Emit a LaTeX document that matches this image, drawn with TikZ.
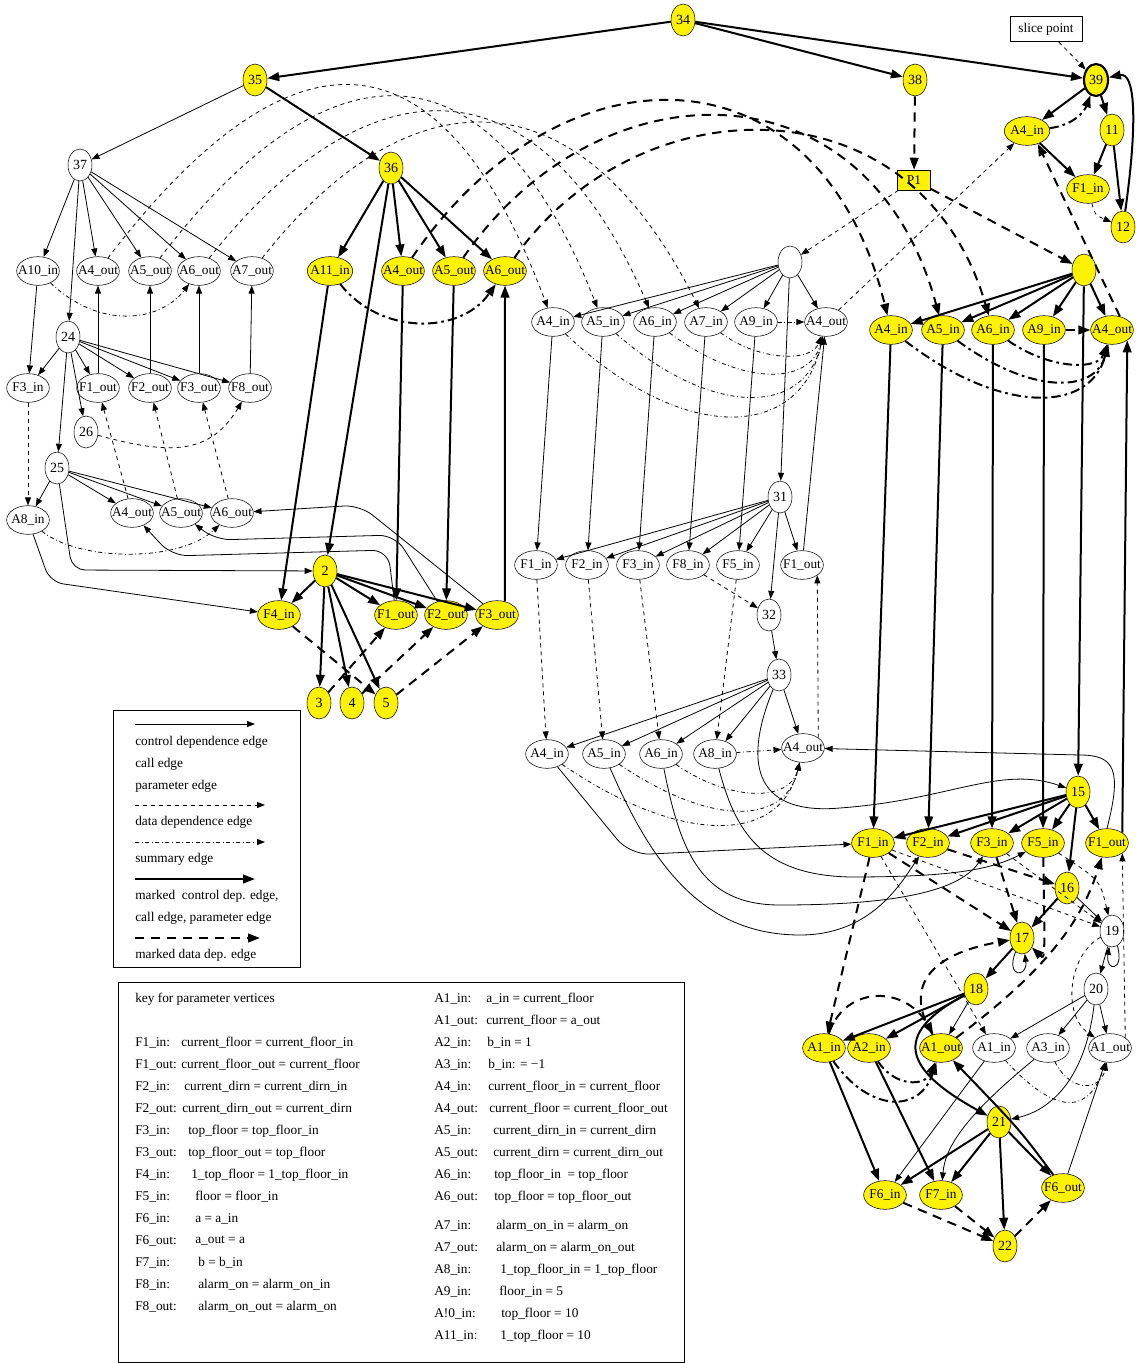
\documentclass[tikz,border=0pt]{standalone}
\usepackage{fontspec}
\setmainfont{Liberation Serif}
\usetikzlibrary{shapes.geometric,arrows.meta}

\tikzset{
  pv/.style={ellipse, draw, inner xsep=-5pt, inner ysep=0pt, minimum width=32pt, minimum height=21.5pt, font=\fontsize{10}{11}\selectfont},
  nv/.style={ellipse, draw, inner sep=0pt, minimum width=18pt, minimum height=24pt, font=\fontsize{10.5}{11}\selectfont},
  mk/.style={fill=yellow},
  ctl/.style={-{Triangle[length=6pt,width=4.5pt]}, line width=0.6pt},
  dd/.style={ctl, dashed},
  sm/.style={ctl, dash dot},
  mctl/.style={-{Triangle[length=9pt,width=6.5pt]}, line width=1.5pt},
  mdd/.style={mctl, dash pattern=on 7pt off 5pt},
  msm/.style={mctl, dash pattern=on 7pt off 3pt on 2pt off 3pt},
  txt/.style={anchor=west, inner sep=0pt, font=\fontsize{10}{12}\selectfont},
}

\begin{document}
\begin{tikzpicture}[x=0.75pt,y=-0.75pt]
\path[fill=white, use as bounding box] (0,0) rectangle (1135,1363);

% main and call sites
\node[nv,mk] (n34) at (683,20) {34};
\node[nv,mk] (n35) at (255,80) {35};
\node[nv,mk] (n38) at (915,80) {38};
\node[nv,mk,line width=1.6pt] (n39) at (1096,80) {39};
\node[draw, minimum width=54pt, minimum height=19pt, font=\fontsize{10}{11}\selectfont] (slice) at (1046,29) {slice point};
\node[nv] (n37) at (80,165) {37};
\node[nv,mk] (n36) at (391,168) {36};
\node[draw,mk,minimum width=25pt,minimum height=15pt,inner sep=0pt,font=\fontsize{10}{11}\selectfont] (p1) at (914,180) {\raisebox{-2pt}{P1}};
\node[pv,mk,minimum width=34pt] (A4inT) at (1027,131) {A4\_in};
\node[nv,mk] (n11) at (1112,130) {11};
\node[pv,mk] (F1inT) at (1088,189) {F1\_in};
\node[nv,mk] (n12) at (1123,227) {12};

% left procedure (37)
\node[pv] (A10inL) at (38,271) {A10\_in};
\node[pv] (A4outL) at (98,271) {A4\_out};
\node[pv] (A5outL) at (150,271) {A5\_out};
\node[pv] (A6outL) at (199,271) {A6\_out};
\node[pv] (A7outL) at (252,271) {A7\_out};
\node[nv] (n24) at (68,337) {24};
\node[pv] (F3inL) at (28,388) {F3\_in};
\node[pv] (F1outL) at (98,388) {F1\_out};
\node[pv] (F2outL) at (150,388) {F2\_out};
\node[pv] (F3outL) at (199,388) {F3\_out};
\node[pv] (F8outL) at (250,388) {F8\_out};
\node[nv] (n26) at (86,432) {26};
\node[nv] (n25) at (57,468) {25};
\node[pv] (A8inB) at (28,520) {A8\_in};
\node[pv] (A4outB) at (132,513) {A4\_out};
\node[pv] (A5outB) at (181,513) {A5\_out};
\node[pv] (A6outB) at (232,513) {A6\_out};

% marked procedure (36)
\node[pv,mk,minimum width=34pt] (A11inM) at (330,271) {A11\_in};
\node[pv,mk] (A4outM) at (403,271) {A4\_out};
\node[pv,mk] (A5outM) at (454,271) {A5\_out};
\node[pv,mk] (A6outM) at (505,271) {A6\_out};
\node[nv,mk] (n2) at (325,571) {2};
\node[pv,mk] (F4inM) at (279,615) {F4\_in};
\node[pv,mk] (F1outM) at (396,615) {F1\_out};
\node[pv,mk] (F2outM) at (446,615) {F2\_out};
\node[pv,mk] (F3outM) at (497,615) {F3\_out};
\node[nv,mk] (n3) at (319,703) {3};
\node[nv,mk] (n4) at (352,703) {4};
\node[nv,mk] (n5) at (386,703) {5};

% unmarked call (blank vertex)
\node[nv] (w0) at (790,262) {};
\node[pv] (A4inW) at (553,322) {A4\_in};
\node[pv] (A5inW) at (603,322) {A5\_in};
\node[pv] (A6inW) at (655,322) {A6\_in};
\node[pv] (A7inW) at (706,322) {A7\_in};
\node[pv] (A9inW) at (756,322) {A9\_in};
\node[pv] (A4outW) at (826,322) {A4\_out};
\node[nv] (n31) at (780,497) {31};
\node[pv] (F1inW) at (536,565) {F1\_in};
\node[pv] (F2inW) at (587,565) {F2\_in};
\node[pv] (F3inW) at (638,565) {F3\_in};
\node[pv] (F8inW) at (688,565) {F8\_in};
\node[pv] (F5inW) at (738,565) {F5\_in};
\node[pv] (F1outW) at (802,565) {F1\_out};
\node[nv] (n32) at (769,615) {32};
\node[nv] (n33) at (779,675) {33};
\node[pv] (A4inX) at (547,754) {A4\_in};
\node[pv] (A5inX) at (604,754) {A5\_in};
\node[pv] (A6inX) at (661,754) {A6\_in};
\node[pv] (A8inX) at (715,754) {A8\_in};
\node[pv] (A4outX) at (803,748) {A4\_out};

% marked call (blank vertex)
\node[nv,mk] (y0) at (1084,270) {};
\node[pv,mk] (A4inY) at (891,330) {A4\_in};
\node[pv,mk] (A5inY) at (943,330) {A5\_in};
\node[pv,mk] (A6inY) at (993,330) {A6\_in};
\node[pv,mk] (A9inY) at (1044,330) {A9\_in};
\node[pv,mk] (A4outY) at (1112,330) {A4\_out};
\node[nv,mk] (n15) at (1078,792) {15};
\node[pv,mk] (F1inY) at (873,843) {F1\_in};
\node[pv,mk] (F2inY) at (928,843) {F2\_in};
\node[pv,mk] (F3inY) at (992,843) {F3\_in};
\node[pv,mk] (F5inY) at (1043,843) {F5\_in};
\node[pv,mk] (F1outY) at (1107,843) {F1\_out};
\node[nv,mk] (n16) at (1067,888) {16};
\node[nv,mk] (n17) at (1022,938) {17};
\node[nv] (n19) at (1112,931) {19};
\node[nv,mk] (n18) at (976,989) {18};
\node[nv] (n20) at (1096,989) {20};
\node[pv,mk] (A1inS) at (824,1048) {A1\_in};
\node[pv,mk] (A2inS) at (869,1048) {A2\_in};
\node[pv,mk] (A1outS) at (941,1048) {A1\_out};
\node[pv] (A1inU) at (994,1048) {A1\_in};
\node[pv] (A3inU) at (1048,1048) {A3\_in};
\node[pv] (A1outU) at (1110,1048) {A1\_out};
\node[nv,mk] (n21) at (999,1122) {21};
\node[pv,mk] (F6inS) at (885,1195) {F6\_in};
\node[pv,mk] (F7inS) at (941,1195) {F7\_in};
\node[pv,mk] (F6outS) at (1063,1188) {F6\_out};
\node[nv,mk] (n22) at (1005,1246) {22};

% edges at the top
\draw[mctl] (n34) -- (n35);
\draw[mctl] (n34) -- (n38);
\draw[mctl] (n34) -- (n39);
\draw[ctl] (n35) -- (n37);
\draw[mctl] (n35) -- (n36);
\draw[dd] (slice) -- (n39);
\draw[mdd] (n38) -- (p1);
\draw[mctl] (n39) -- (A4inT);
\draw[mctl] (n39) -- (n11);
\draw[mctl] (n11) -- (F1inT);
\draw[mctl] (n11) -- (n12);
\draw[mctl] (A4inT) -- (F1inT);
\draw[mctl] (n12) .. controls (1138,120) and (1135,72) .. (n39);
\draw[msm] (A4inT) .. controls (1075,125) and (1085,110) .. (n39);
\draw[dd] (F1inT) .. controls (1095,215) .. (n12);
\draw[dd] (A4outW) -- (A4inT);
\draw[mdd] (A4outY.60) -- (A4inT.-50);
\draw[dd] (p1) -- (w0);
\draw[mdd] (p1) -- (y0);

% left procedure edges
\foreach \t in {A10inL,A4outL,A5outL,A6outL,A7outL,n24} \draw[ctl] (n37) -- (\t);
\foreach \t in {F3inL,F1outL,F2outL,F3outL,F8outL,n26,n25} \draw[ctl] (n24) -- (\t);
\draw[ctl] (A10inL) -- (F3inL);
\draw[ctl] (F1outL) -- (A4outL);
\draw[ctl] (F2outL) -- (A5outL);
\draw[ctl] (F3outL) -- (A6outL);
\draw[ctl] (F8outL) -- (A7outL);
\draw[sm] (A10inL) .. controls (100,330) and (160,322) .. (A6outL);
\draw[dd] (F3inL) -- (A8inB);
\draw[dd] (n26) .. controls (170,455) and (210,455) .. (F8outL);
\foreach \t in {A8inB,A4outB,A5outB,A6outB} \draw[ctl] (n25) -- (\t);
\draw[dd] (A4outB) -- (F1outL);
\draw[dd] (A5outB) -- (F2outL);
\draw[dd] (A6outB) -- (F3outL);
\draw[sm] (A8inB) .. controls (80,562) and (180,562) .. (A6outB);
\draw[ctl, rounded corners=10pt] (A8inB) -- (50,582) -- (F4inM);
\draw[ctl, rounded corners=10pt] (n25) -- (72,570) -- (n2);
\draw[ctl, rounded corners=12pt] (F1outM) -- (388,550) -- (172,556) -- (A4outB);
\draw[ctl, rounded corners=12pt] (F2outM) -- (395,535) -- (215,540) -- (A5outB);
\draw[ctl, rounded corners=12pt] (F3outM) -- (360,505) -- (A6outB);

% marked procedure edges
\foreach \t in {A11inM,A4outM,A5outM,A6outM,n2} \draw[mctl] (n36) -- (\t);
\draw[mctl] (A11inM) -- (F4inM);
\draw[mctl] (A4outM) -- (F1outM);
\draw[mctl] (A5outM) -- (F2outM);
\draw[mctl] (F3outM.60) -- (A6outM.south);
\draw[msm] (A11inM) .. controls (380,335) and (460,335) .. (A6outM);
\foreach \t in {F4inM,F1outM,F2outM,F3outM,n3,n4,n5} \draw[mctl] (n2) -- (\t);
\draw[mdd] (n3) -- (F1outM);
\draw[mdd] (n4) -- (F2outM);
\draw[mdd] (n5) -- (F3outM);
\draw[mdd] (F4inM) -- (n5);

% long data edges across
\draw[dd] (A4outL) .. controls (290,20) and (440,20) .. (A4inW);
\draw[dd] (A5outL) .. controls (330,35) and (490,35) .. (A5inW);
\draw[dd] (A6outL) .. controls (370,55) and (540,55) .. (A6inW);
\draw[dd] (A7outL) .. controls (410,70) and (580,70) .. (A7inW);
\draw[mdd] (A4outM) .. controls (560,40) and (820,40) .. (A4inY);
\draw[mdd] (A5outM) .. controls (600,60) and (870,60) .. (A5inY);
\draw[mdd] (A6outM) .. controls (640,80) and (920,80) .. (A6inY);

% unmarked call edges
\foreach \t in {A4inW,A5inW,A6inW,A7inW,A9inW,A4outW,n31} \draw[ctl] (w0) -- (\t);
\draw[ctl] (A4inW) -- (F1inW);
\draw[ctl] (A5inW) -- (F2inW);
\draw[ctl] (A6inW) -- (F3inW);
\draw[ctl] (A7inW) -- (F8inW);
\draw[ctl] (A9inW) -- (F5inW);
\draw[ctl] (F1outW) -- (A4outW);
\draw[sm] (A4inW) .. controls (680,443) and (800,443) .. (A4outW);
\draw[sm] (A5inW) .. controls (710,417) and (805,417) .. (A4outW);
\draw[sm] (A6inW) .. controls (740,386) and (810,386) .. (A4outW);
\draw[sm] (A7inW) .. controls (760,362) and (812,362) .. (A4outW);
\draw[sm] (A9inW) -- (A4outW);
\foreach \t in {F1inW,F2inW,F3inW,F8inW,F5inW,F1outW,n32} \draw[ctl] (n31) -- (\t);
\draw[dd] (F8inW) -- (n32);
\draw[ctl] (n32) -- (n33);
\draw[dd] (F1inW) -- (A4inX);
\draw[dd] (F2inW) -- (A5inX);
\draw[dd] (F3inW) -- (A6inX);
\draw[dd] (F5inW) -- (A8inX);
\draw[dd] (A4outX.north east) -- (F1outW.south east);
\foreach \t in {A4inX,A5inX,A6inX,A8inX,A4outX} \draw[ctl] (n33) -- (\t);
\draw[sm] (A8inX) -- (A4outX);
\draw[sm] (A4inX) .. controls (680,845) and (780,845) .. (A4outX);
\draw[sm] (A5inX) .. controls (710,826) and (785,826) .. (A4outX);
\draw[sm] (A6inX) .. controls (730,802) and (790,802) .. (A4outX);
\draw[ctl] (n33) .. controls (740,770) and (760,815) .. (840,808) .. controls (950,800) and (1000,765) .. (n15);
\draw[ctl, rounded corners=15pt] (A4inX) -- (630,855) -- (F1inY);
\draw[ctl] (A5inX) .. controls (650,860) and (700,935) .. (800,935) .. controls (870,935) and (900,885) .. (F2inY);
\draw[ctl] (A6inX) .. controls (680,850) and (700,905) .. (780,905) .. controls (900,905) and (960,890) .. (F3inY);
\draw[ctl] (A8inX) .. controls (735,830) and (760,875) .. (850,877) .. controls (950,877) and (990,870) .. (F5inY);
\draw[ctl] (F1outY.north) .. controls (1122,770) and (1115,755) .. (1080,755) -- (A4outX);

% marked call edges
\foreach \t in {A4inY,A5inY,A6inY,A9inY,A4outY,n15} \draw[mctl] (y0) -- (\t);
\draw[mctl] (A4inY) -- (F1inY);
\draw[mctl] (A5inY) -- (F2inY);
\draw[mctl] (A6inY) -- (F3inY);
\draw[mctl] (A9inY) -- (F5inY);
\draw[mctl] (F1outY.north east) -- (A4outY.south east);
\draw[msm] (A4inY) .. controls (1000,414) and (1090,414) .. (A4outY);
\draw[msm] (A5inY) .. controls (1030,394) and (1095,394) .. (A4outY);
\draw[msm] (A6inY) .. controls (1050,370) and (1098,370) .. (A4outY);
\draw[msm] (A9inY) -- (A4outY);
\foreach \t in {F1inY,F2inY,F3inY,F5inY,F1outY,n16} \draw[mctl] (n15) -- (\t);
\draw[mctl] (n16) -- (n17);
\draw[ctl] (n16) -- (n19);
\draw[mdd] (F1inY) -- (n17);
\draw[mdd] (F2inY) -- (n16);
\draw[mdd] (F3inY) -- (n17);
\draw[mdd] (F5inY) .. controls (1045,960) .. (n17);
\draw[dd] (F1inY) -- (n19);
\draw[dd] (F3inY) -- (n19);
\draw[dd] (F5inY) .. controls (1100,880) .. (n19);
\draw[mdd] (F1inY) -- (A1inS);
\draw[dd] (F1inY) -- (A1inU);
\draw[dd] (A1outU.north east) -- (F1outY.south east);
\draw[mctl] (n17) -- (n18);
\draw[ctl] (n17.-115) .. controls (1005,978) and (1028,978) .. (n17.-80);
\draw[ctl] (n19.-70) .. controls (1125,972) and (1105,972) .. (n19.-100);
\draw[ctl] (n19) -- (n20);
\draw[dd] (n19) .. controls (1068,955) and (1062,1015) .. (A1outU);

% 18 and 20
\draw[mctl] (n18) -- (A1inS);
\draw[mctl] (n18) -- (A2inS);
\draw[ctl] (n18) -- (A1outS);
\draw[mctl] (n18) .. controls (890,1035) and (905,1070) .. (n21);
\draw[mdd] (A1inS) .. controls (845,985) and (905,985) .. (A1outS);
\draw[mdd] (A1outS) .. controls (905,990) and (925,955) .. (n17);
\draw[mdd] (A1outS.north east) .. controls (1060,960) and (1085,910) .. (F1outY.-110);
\draw[msm] (A1inS) .. controls (870,1113) and (920,1113) .. (A1outS);
\draw[msm] (A2inS) .. controls (895,1087) and (925,1087) .. (A1outS);
\draw[mctl] (A1inS) -- (F6inS);
\draw[mctl] (A2inS) -- (F7inS);
\draw[mctl] (F6outS) .. controls (1020,1130) .. (A1outS);
\foreach \t in {A1inU,A3inU,A1outU} \draw[ctl] (n20) -- (\t);
\draw[ctl] (n20) .. controls (1085,1080) and (1050,1110) .. (n21);
\draw[ctl] (A1inU) -- (F6inS);
\draw[ctl] (A3inU) .. controls (960,1120) and (945,1150) .. (F7inS);
\draw[ctl] (F6outS) -- (A1outU);
\draw[sm] (A1inU) .. controls (1060,1120) and (1090,1110) .. (A1outU);
\draw[sm] (A3inU) .. controls (1070,1092) and (1100,1092) .. (A1outU);

% 21 and 22
\foreach \t in {F6inS,F7inS,n22,F6outS} \draw[mctl] (n21) -- (\t);
\draw[mdd] (F6inS) -- (n22);
\draw[mdd] (F7inS) -- (n22);
\draw[mdd] (n22) -- (F6outS);

% legend
\draw[line width=0.6pt] (113,710) rectangle (300,967);
\draw[ctl] (135,724) -- (255,724);
\draw[dd] (135,805) -- (265,805);
\draw[sm] (135,842) -- (265,842);
\draw[mctl] (135,879) -- (255,879);
\draw[mdd] (135,938) -- (260,938);
\foreach \y/\s [count=\i] in {742/control dependence edge, 764/call edge, 786/parameter edge,
  822/data dependence edge, 859/summary edge, 896/marked\ \ control dep. edge{,},
  918/call edge{,} parameter edge, 955/marked data dep. edge}
  \node[txt] (lg\i) at (135,\y) {\s};

% key for parameter vertices
\draw[line width=0.6pt] (118,982) rectangle (684,1362);
\node[txt] (keyt) at (135,999) {key for parameter vertices};
\foreach \y/\k/\x/\v [count=\i] in {
  1043/F1\_in:/181/current\_floor = current\_floor\_in,
  1065/F1\_out:/181/current\_floor\_out = current\_floor,
  1087/F2\_in:/184/current\_dirn = current\_dirn\_in,
  1109/F2\_out:/182/current\_dirn\_out = current\_dirn,
  1131/F3\_in:/188/top\_floor = top\_floor\_in,
  1153/F3\_out:/188/top\_floor\_out = top\_floor,
  1175/F4\_in:/191/1\_top\_floor = 1\_top\_floor\_in,
  1197/F5\_in:/195/floor = floor\_in,
  1219/F6\_in:/195/a = a\_in,
  1241/F6\_out:/195/a\_out = a,
  1263/F7\_in:/198/b = b\_in,
  1285/F8\_in:/198/alarm\_on = alarm\_on\_in,
  1307/F8\_out:/198/alarm\_on\_out = alarm\_on}
  {\node[txt] (kf\i) at (135,\y) {\k};
   \node[txt] (vf\i) at (\x,\y) {\v};}
\foreach \y/\k/\x/\v [count=\i] in {
  999/A1\_in:/486/a\_in = current\_floor,
  1021/A1\_out:/486/current\_floor = a\_out,
  1043/A2\_in:/487/b\_in = 1,
  1065/A3\_in:/488/b\_in: = −1,
  1087/A4\_in:/488/current\_floor\_in = current\_floor,
  1109/A4\_out:/489/current\_floor = current\_floor\_out,
  1131/A5\_in:/493/current\_dirn\_in = current\_dirn,
  1153/A5\_out:/493/current\_dirn = current\_dirn\_out,
  1175/A6\_in:/494/top\_floor\_in\ \ = top\_floor,
  1197/A6\_out:/494/top\_floor = top\_floor\_out,
  1226/A7\_in:/496/alarm\_on\_in = alarm\_on,
  1248/A7\_out:/496/alarm\_on = alarm\_on\_out,
  1270/A8\_in:/500/1\_top\_floor\_in = 1\_top\_floor,
  1292/A9\_in:/499/floor\_in = 5,
  1314/A!0\_in:/501/top\_floor = 10,
  1336/A11\_in:/500/1\_top\_floor = 10}
  {\node[txt] (ka\i) at (434,\y) {\k};
   \node[txt] (va\i) at (\x,\y) {\v};}
\end{tikzpicture}
\end{document}
